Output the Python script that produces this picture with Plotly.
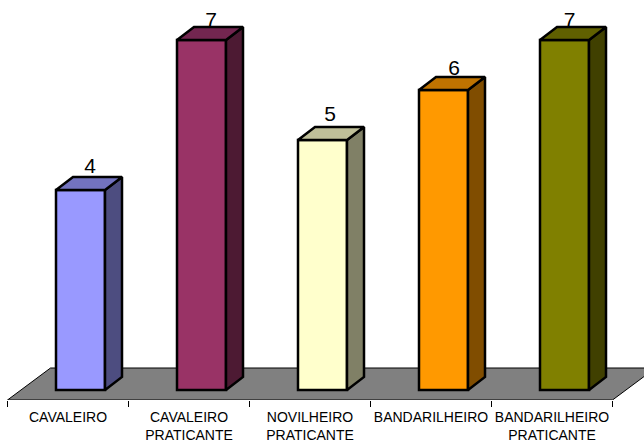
import plotly.graph_objects as go

categories = ["CAVALEIRO", "CAVALEIRO<br>PRATICANTE", "NOVILHEIRO<br>PRATICANTE",
              "BANDARILHEIRO", "BANDARILHEIRO<br>PRATICANTE"]
values = [4, 7, 5, 6, 7]
front_colors = ["#9999FF", "#993366", "#FFFFCC", "#FF9900", "#808000"]
side_colors = ["#4D4D80", "#4D1A33", "#808066", "#804D00", "#404000"]
top_colors = ["#7373BF", "#732650", "#BFBF99", "#BF7300", "#606000"]

W, H = 644, 441
BOTTOM = 400          # pixel row of the floor's front edge
PX_X, PX_Y = 121.0, 50.0
X0_PX, Y0_PX = 68.0, 390.0

bar_w = 49 / PX_X
bar_off = 12.5 / PX_X
dep_x = 17 / PX_X
dep_y = 13 / PX_Y
floor_dx = 43 / PX_X
floor_dy = 32 / PX_Y
floor_y = -10 / PX_Y
label_nudge_x = [9.5, 9.5, 7.5, 10.5, 5]
label_nudge_y = [22, 18.5, 23.8, 20.5, 18.5]
xs = list(range(len(values)))

fig = go.Figure()
black = dict(color="black", width=2.5)

fig.add_trace(go.Bar(x=[i + bar_off for i in xs], y=values, width=bar_w,
                     marker=dict(color=front_colors, line=black),
                     hoverinfo="skip", showlegend=False))

for i, v in zip(xs, values):
    l = i + bar_off - bar_w / 2
    r = i + bar_off + bar_w / 2
    fig.add_trace(go.Scatter(x=[r, r + dep_x, r + dep_x, r, r], y=[0, dep_y, v + dep_y, v, 0],
                             mode="lines", fill="toself", fillcolor=side_colors[i],
                             line=black, hoverinfo="skip", showlegend=False))
    fig.add_trace(go.Scatter(x=[l, r, r + dep_x, l + dep_x, l], y=[v, v, v + dep_y, v + dep_y, v],
                             mode="lines", fill="toself", fillcolor=top_colors[i],
                             line=black, hoverinfo="skip", showlegend=False))

fig.add_trace(go.Scatter(x=[i + bar_off + label_nudge_x[i] / PX_X for i in xs],
                         y=[v + label_nudge_y[i] / PX_Y for i, v in zip(xs, values)],
                         mode="text", text=[str(v) for v in values], textposition="middle center",
                         textfont=dict(family="Liberation Sans", size=21, color="black"),
                         hoverinfo="skip", showlegend=False))

n = len(values)
fx = [-0.5, n - 0.5, n - 0.5 + floor_dx, -0.5 + floor_dx]
fy = [floor_y, floor_y, floor_y + floor_dy, floor_y + floor_dy]
path = "M " + " L ".join(f"{a},{b}" for a, b in zip(fx, fy)) + " Z"
fig.add_shape(type="path", path=path, xref="x", yref="y", layer="below",
              fillcolor="#808080", line=dict(color="black", width=1))

fig.update_layout(
    width=W, height=H, autosize=False,
    margin=dict(l=0, r=0, t=0, b=H - BOTTOM, pad=0),
    paper_bgcolor="white", plot_bgcolor="white",
    font=dict(family="Liberation Sans", size=14, color="black"),
    showlegend=False, barmode="overlay",
    xaxis=dict(range=[(0 - X0_PX) / PX_X, (W - X0_PX) / PX_X], tickmode="array", automargin=False,
               tickvals=xs, ticktext=categories, ticks="", showgrid=False, zeroline=False,
               showline=False, tickangle=0, ticklabelstandoff=7,
               tickfont=dict(family="Liberation Sans", size=14, color="black"),
               minor=dict(tick0=-0.5, dtick=1, ticks="outside", ticklen=6, tickwidth=1,
                          tickcolor="black", showgrid=False)),
    yaxis=dict(range=[(Y0_PX - BOTTOM) / PX_Y, Y0_PX / PX_Y], visible=False, showgrid=False,
               zeroline=False, automargin=False),
)
fig.write_html("out.html", config=dict(displayModeBar=False),
               post_script="document.body.style.margin='0';document.documentElement.style.overflow='hidden';")
